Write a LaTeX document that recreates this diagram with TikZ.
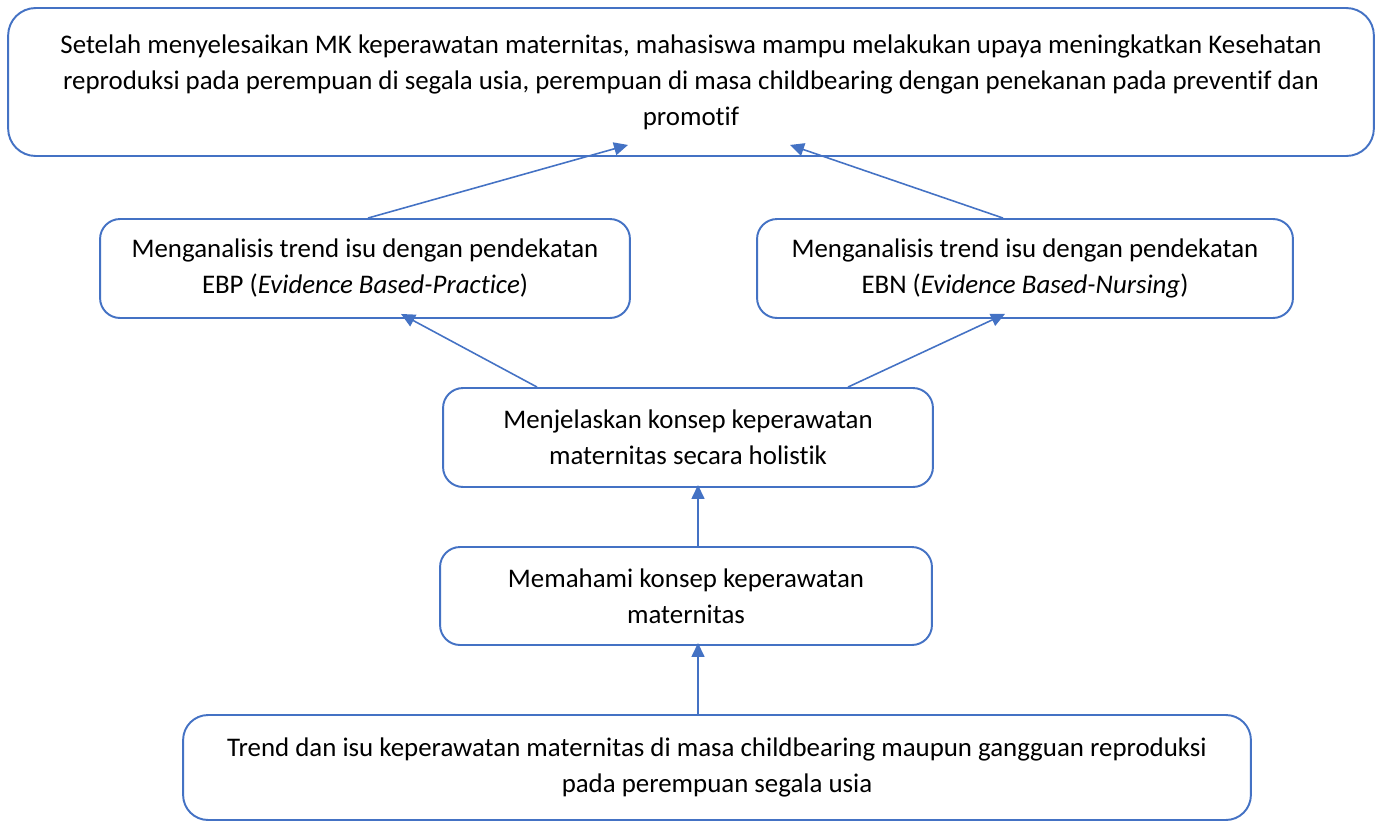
\documentclass[tikz,border=0pt]{standalone}
\usepackage{fontspec}
\setmainfont{Carlito}[Ligatures={NoCommon}]
\usepackage{xcolor}
\definecolor{boxblue}{HTML}{4472C4}
\usetikzlibrary{positioning,calc,arrows.meta}

\tikzset{
  kotak/.style={draw=boxblue, line width=1.1pt, rounded corners=0.4cm, fill=white,
    align=center, inner sep=0pt, font=\fontsize{15.3}{20.5}\selectfont},
  panah/.style={draw=boxblue, line width=0.9pt, -{Triangle[length=0.28cm,width=0.26cm]}}
}

\begin{document}
\begin{tikzpicture}[x=0.02cm, y=-0.02cm]
			\useasboundingbox (0,0) rectangle (1376,822);
			\node [kotak, rounded corners=0.55cm, minimum width=27.32cm, minimum height=2.96cm] (goal) at (691,82)
				{Setelah menyelesaikan MK keperawatan maternitas, mahasiswa mampu melakukan upaya meningkatkan Kesehatan\\
				 reproduksi pada perempuan di segala usia, perempuan di masa childbearing dengan penekanan pada preventif dan\\
				 promotif};
			\node [kotak, minimum width=10.6cm, minimum height=1.98cm] (ebp) at (365,268.5)
				{Menganalisis trend isu dengan pendekatan\\ EBP (\textit{Evidence Based-Practice})};
			\node [kotak, minimum width=10.72cm, minimum height=1.98cm] (ebn) at (1025,268.5)
				{Menganalisis trend isu dengan pendekatan\\ EBN (\textit{Evidence Based-Nursing})};
			\node [kotak, minimum width=9.8cm, minimum height=1.98cm] (holistik) at (688,437.5)
				{Menjelaskan konsep keperawatan\\ maternitas secara holistik};
			\node [kotak, minimum width=9.84cm, minimum height=1.96cm] (paham) at (686,596)
				{Memahami konsep keperawatan\\ maternitas};
			\node [kotak, rounded corners=0.5cm, minimum width=21.36cm, minimum height=2.1cm] (trend) at (717,767.5)
				{Trend dan isu keperawatan maternitas di masa childbearing maupun gangguan reproduksi\\ pada perempuan segala usia};
			\coordinate (g1) at ($(goal.south)+(-63,-12)$);
			\coordinate (g2) at ($(goal.south)+(99,-12)$);
			\coordinate (e1) at ($(ebp.south)+(36,-5)$);
			\coordinate (e2) at ($(ebn.south)+(-20,-5)$);
			\draw [panah] ($(ebp.north)+(3,0)$) -- (g1);
			\draw [panah] ($(ebn.north)+(-22,0)$) -- (g2);
			\draw [panah] ($(holistik.north)+(-151,0)$) -- (e1);
			\draw [panah] ($(holistik.north)+(160,0)$) -- (e2);
			\draw [panah] ($(paham.north)+(12,0)$) -- ($(holistik.south)+(10,-3)$);
			\draw [panah] ($(trend.north)+(-19,0)$) -- ($(paham.south)+(12,-3)$);
		\end{tikzpicture}
\end{document}
